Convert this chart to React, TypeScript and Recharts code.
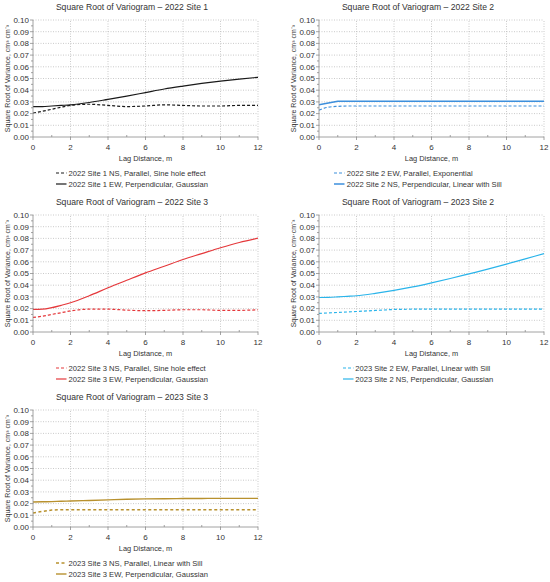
import React from 'react';
import { LineChart, Line, XAxis, YAxis, ReferenceLine, Legend, Label } from 'recharts';

const FONT = '"Liberation Sans", Arial, sans-serif';
const TEXT = '#333333';
const AXIS = '#8c8c8c';
const GRID = '#bdbdbd';

const lags = [0, 0.5, 1, 1.5, 2, 3, 4, 5, 6, 7, 8, 9, 10, 11, 12];
const xAllTicks = [0, 1, 2, 3, 4, 5, 6, 7, 8, 9, 10, 11, 12];
const xGridTicks = [2, 4, 6, 8, 10, 12];
const yAllTicks = [0, 0.005, 0.01, 0.015, 0.02, 0.025, 0.03, 0.035, 0.04, 0.045, 0.05, 0.055, 0.06, 0.065, 0.07, 0.075, 0.08, 0.085, 0.09, 0.095, 0.1];
const yGridTicks = [0.01, 0.02, 0.03, 0.04, 0.05, 0.06, 0.07, 0.08, 0.09, 0.1];

// 2022 Site 1
const site1_2022_NS = [0.0205, 0.022, 0.0237, 0.0255, 0.027, 0.028, 0.027, 0.026, 0.0265, 0.0275, 0.027, 0.0265, 0.0265, 0.027, 0.027];
const site1_2022_EW = [0.026, 0.026, 0.0265, 0.027, 0.0275, 0.0295, 0.0322, 0.035, 0.038, 0.041, 0.0435, 0.0458, 0.0478, 0.0495, 0.051];
// 2022 Site 2
const site2_2022_EW = [0.023, 0.0255, 0.0262, 0.0265, 0.0265, 0.0265, 0.0265, 0.0265, 0.0265, 0.0265, 0.0265, 0.0265, 0.0265, 0.0265, 0.0265];
const site2_2022_NS = [0.0275, 0.029, 0.0305, 0.0305, 0.0305, 0.0305, 0.0305, 0.0305, 0.0305, 0.0305, 0.0305, 0.0305, 0.0305, 0.0305, 0.0305];
// 2022 Site 3
const site3_2022_NS = [0.0125, 0.0135, 0.015, 0.0165, 0.018, 0.0195, 0.0195, 0.0187, 0.0182, 0.0185, 0.019, 0.019, 0.0185, 0.0185, 0.019];
const site3_2022_EW = [0.0193, 0.0195, 0.0208, 0.0228, 0.025, 0.031, 0.0378, 0.0442, 0.0505, 0.0562, 0.062, 0.067, 0.072, 0.0765, 0.0802];
// 2023 Site 2
const site2_2023_EW = [0.0159, 0.0163, 0.0167, 0.0171, 0.0175, 0.0184, 0.0193, 0.0195, 0.0195, 0.0195, 0.0195, 0.0195, 0.0195, 0.0195, 0.0195];
const site2_2023_NS = [0.0295, 0.0296, 0.03, 0.0305, 0.031, 0.033, 0.0355, 0.0385, 0.042, 0.0457, 0.0497, 0.0537, 0.058, 0.0625, 0.067];
// 2023 Site 3
const site3_2023_NS = [0.012, 0.0133, 0.0145, 0.0148, 0.0148, 0.0148, 0.0148, 0.0148, 0.0148, 0.0148, 0.0148, 0.0148, 0.0148, 0.0148, 0.0148];
const site3_2023_EW = [0.0214, 0.0216, 0.0217, 0.022, 0.0222, 0.0227, 0.0232, 0.0237, 0.024, 0.0242, 0.0243, 0.0244, 0.0245, 0.0245, 0.0245];

type Series = { name: string; values: number[]; color: string; dash?: string; width?: number; curve: 'monotone' | 'linear' };
type PanelCfg = { title: string; yLabel: string; series: Series[] };

const panels: { cfg: PanelCfg; x: number; y: number; shift: number }[] = [
  {
    x: 0, y: 0, shift: 0,
    cfg: {
      title: 'Square Root of Variogram \u2013 2022 Site 1',
      yLabel: 'Square Root of Variance, cm\u00b3 cm\u207b\u00b3',
      series: [
        { name: '2022 Site 1 NS, Parallel, Sine hole effect', values: site1_2022_NS, color: '#1a1a1a', dash: '3 2', curve: 'monotone' },
        { name: '2022 Site 1 EW, Perpendicular, Gaussian', values: site1_2022_EW, color: '#1a1a1a', curve: 'monotone' },
      ],
    },
  },
  {
    x: 275, y: 0, shift: 11,
    cfg: {
      title: 'Square Root of Variogram \u2013 2022 Site 2',
      yLabel: 'Square Root of Variance, cm\u00b3 cm\u207b\u00b3',
      series: [
        { name: '2022 Site 2 EW, Parallel, Exponential', values: site2_2022_EW, color: '#3d8fdc', dash: '3 2', curve: 'monotone' },
        { name: '2022 Site 2 NS, Perpendicular, Linear with Sill', values: site2_2022_NS, color: '#3d8fdc', width: 1.5, curve: 'linear' },
      ],
    },
  },
  {
    x: 0, y: 195, shift: 0,
    cfg: {
      title: 'Square Root of Variogram \u2013 2022 Site 3',
      yLabel: 'Square Root of Variance, cm\u00b3 cm\u207b\u00b3',
      series: [
        { name: '2022 Site 3 NS, Parallel, Sine hole effect', values: site3_2022_NS, color: '#e5383b', dash: '3 2', curve: 'monotone' },
        { name: '2022 Site 3 EW, Perpendicular, Gaussian', values: site3_2022_EW, color: '#e5383b', curve: 'monotone' },
      ],
    },
  },
  {
    x: 275, y: 195, shift: 11,
    cfg: {
      title: 'Square Root of Variogram \u2013 2023 Site 2',
      yLabel: 'Square Root of Variance, cm\u00b3\u00b7cm\u207b\u00b3',
      series: [
        { name: '2023 Site 2 EW, Parallel, Linear with Sill', values: site2_2023_EW, color: '#2ab4ea', dash: '3 2', curve: 'linear' },
        { name: '2023 Site 2 NS, Perpendicular, Gaussian', values: site2_2023_NS, color: '#2ab4ea', curve: 'monotone' },
      ],
    },
  },
  {
    x: 0, y: 390, shift: 0,
    cfg: {
      title: 'Square Root of Variogram \u2013 2023 Site 3',
      yLabel: 'Square Root of Variance, cm\u00b3 cm\u207b\u00b3',
      series: [
        { name: '2023 Site 3 NS, Parallel, Linear with Sill', values: site3_2023_NS, color: '#b8912e', dash: '3 2.5', width: 1.5, curve: 'linear' },
        { name: '2023 Site 3 EW, Perpendicular, Gaussian', values: site3_2023_EW, color: '#b8912e', width: 1.4, curve: 'monotone' },
      ],
    },
  },
];

function Panel({ cfg, x, y, shift }: { cfg: PanelCfg; x: number; y: number; shift: number }) {
  const W = 275;
  const H = 195;
  const plotLeft = 33 + shift;
  const plotRight = 258 + shift;
  const plotTop = 20;
  const plotBottom = 137;
  const center = 132 + shift;
  const data = lags.map((lag, i) => {
    const row: Record<string, number> = { lag };
    cfg.series.forEach((s, k) => {
      row['s' + k] = s.values[i];
    });
    return row;
  });

  const xTick = (p: any) => {
    const v = p.payload.value;
    const major = v % 2 === 0;
    return (
      <g>
        <line x1={p.x} x2={p.x} y1={plotBottom} y2={major ? plotBottom + 3 : plotBottom - 2} stroke={AXIS} strokeWidth={0.8} />
        {major && (
          <text x={p.x} y={plotBottom + 13} textAnchor="middle" fontSize={8} fontFamily={FONT} fill={TEXT}>
            {v}
          </text>
        )}
      </g>
    );
  };

  const yTick = (p: any) => {
    const v = p.payload.value;
    const major = Math.round(v * 1000) % 10 === 0;
    return (
      <g>
        <line x1={plotLeft} x2={major ? plotLeft - 3 : plotLeft - 2} y1={p.y} y2={p.y} stroke={AXIS} strokeWidth={0.8} />
        {major && (
          <text x={plotLeft - 4} y={p.y + 2.8} textAnchor="end" fontSize={8} fontFamily={FONT} fill={TEXT}>
            {v.toFixed(2)}
          </text>
        )}
      </g>
    );
  };

  const legendContent = () => (
    <div style={{ textAlign: 'center', fontFamily: FONT, fontSize: 7.6, color: TEXT }}>
      <div style={{ display: 'inline-block', textAlign: 'left' }}>
        {cfg.series.map((s) => (
          <div key={s.name} style={{ display: 'flex', alignItems: 'center', height: 11, whiteSpace: 'nowrap' }}>
            <svg width={11} height={4} style={{ display: 'block' }}>
              <line x1={0} x2={10.5} y1={2} y2={2} stroke={s.color} strokeWidth={s.width || 1.2} strokeDasharray={s.dash} />
            </svg>
            <span style={{ marginLeft: 1.5 }}>{s.name}</span>
          </div>
        ))}
      </div>
    </div>
  );

  return (
    <div style={{ position: 'absolute', left: x, top: y, width: W, height: H }}>
      <div
        style={{
          position: 'absolute',
          left: center - 110,
          width: 220,
          top: 2,
          lineHeight: '11px',
          textAlign: 'center',
          fontFamily: FONT,
          fontSize: 8.6,
          color: TEXT,
          whiteSpace: 'nowrap',
        }}
      >
        {cfg.title}
      </div>
      <div style={{ position: 'absolute', left: 0, top: 0 }}>
        <LineChart width={W} height={H} data={data} margin={{ top: plotTop, right: W - plotRight, bottom: 0, left: 0 }}>
          <XAxis
            dataKey="lag"
            type="number"
            domain={[0, 12]}
            ticks={xAllTicks}
            interval={0}
            height={H - plotBottom}
            tickLine={false}
            tick={xTick}
            stroke={AXIS}
            strokeWidth={0.8}
            allowDataOverflow
          >
            <Label
              content={() => (
                <text x={(plotLeft + plotRight) / 2} y={160.8} textAnchor="middle" fontSize={7.4} fontFamily={FONT} fill={TEXT}>
                  Lag Distance, m
                </text>
              )}
            />
          </XAxis>
          <YAxis
            type="number"
            domain={[0, 0.1]}
            ticks={yAllTicks}
            interval={0}
            width={plotLeft}
            tickLine={false}
            tick={yTick}
            stroke={AXIS}
            strokeWidth={0.8}
            allowDataOverflow
          >
            <Label
              content={() => (
                <text
                  x={7 + shift}
                  y={(plotTop + plotBottom) / 2}
                  transform={`rotate(-90 ${7 + shift} ${(plotTop + plotBottom) / 2})`}
                  textAnchor="middle"
                  dominantBaseline="central"
                  fontSize={7}
                  fontFamily={FONT}
                  fill={TEXT}
                >
                  {cfg.yLabel}
                </text>
              )}
            />
          </YAxis>
          {yGridTicks.map((v) => (
            <ReferenceLine key={'gy' + v} y={v} stroke={GRID} strokeWidth={0.8} strokeDasharray="1 1.5" />
          ))}
          {xGridTicks.map((v) => (
            <ReferenceLine key={'gx' + v} x={v} stroke={GRID} strokeWidth={0.8} strokeDasharray="1 1.5" />
          ))}
          {cfg.series.map((s, k) => (
            <Line
              key={s.name}
              dataKey={'s' + k}
              name={s.name}
              type={s.curve}
              stroke={s.color}
              strokeWidth={s.width || 1.2}
              strokeDasharray={s.dash}
              dot={false}
              activeDot={false}
              isAnimationActive={false}
            />
          ))}
          <Legend
            layout="vertical"
            align="center"
            verticalAlign="middle"
            wrapperStyle={{ left: 0, top: 167.5, width: 2 * center, height: 22 }}
            content={legendContent}
          />
        </LineChart>
      </div>
    </div>
  );
}

export default function App() {
  return (
    <div style={{ position: 'absolute', left: 0, top: 0, width: 550, height: 582, background: '#fff', overflow: 'hidden' }}>
      {panels.map((p, i) => (
        <Panel key={i} cfg={p.cfg} x={p.x} y={p.y} shift={p.shift} />
      ))}
    </div>
  );
}
